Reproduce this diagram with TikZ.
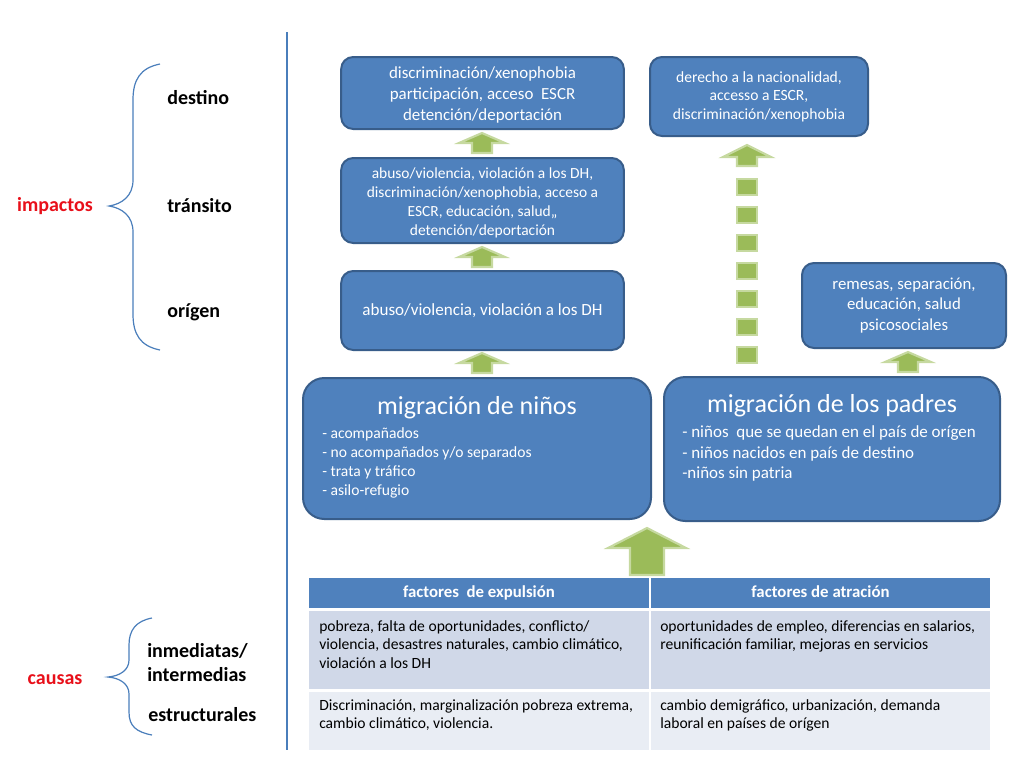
\documentclass[tikz,border=0pt]{standalone}
\usepackage{fontspec}
\setmainfont{Carlito}
\usetikzlibrary{calc}
\definecolor{boxblue}{HTML}{4F81BD}
\definecolor{boxedge}{HTML}{385D8A}
\definecolor{agreen}{HTML}{9BBB59}
\definecolor{agreenl}{HTML}{C6D9A0}
\definecolor{rowa}{HTML}{D0D8E8}
\definecolor{rowb}{HTML}{E9EDF4}
\definecolor{bracec}{HTML}{4A7EBB}
\definecolor{labred}{HTML}{E8101A}
\newcommand{\blockup}[5]{\draw[greenarrow] (#1) -- ++(#2,#3) -- ++(-#2+#4,0) -- ++(0,#5-#3) -- ++(-2*#4,0) -- ++(0,-#5+#3) -- ++(-#2+#4,0) -- cycle;}
\tikzset{
  bluebox/.style={draw=boxedge, line width=1.5pt, fill=boxblue, rounded corners=9pt, text=white, align=center, inner sep=0pt},
  bigbox/.style={bluebox, rounded corners=16pt},
  greenarrow/.style={fill=agreen, draw=agreenl, line width=1.6pt, line join=miter},
  dashsq/.style={fill=agreen, draw=agreenl, line width=1.6pt, minimum width=15pt, minimum height=11.5pt, inner sep=0pt},
  cell/.style={inner sep=0pt, draw=none},
  celltext/.style={align=left, font=\fontsize{11.7}{14}\selectfont, anchor=north west, inner sep=0pt},
  headtext/.style={text=white, font=\bfseries\fontsize{12.6}{15}\selectfont, inner sep=0pt, anchor=base},
  sidelab/.style={font=\bfseries\fontsize{15}{18}\selectfont, anchor=west, inner sep=0pt, align=left},
  redlab/.style={font=\bfseries\fontsize{15}{18}\selectfont, text=labred, inner sep=0pt},
  bracepath/.style={draw=bracec, line width=0.9pt},
  bigtitle/.style={text=white, font=\fontsize{19.5}{22}\selectfont, inner sep=0pt},
}
\begin{document}
\begin{tikzpicture}[x=0.75pt,y=-0.75pt]
\useasboundingbox (0,0) rectangle (1024,768);
% divider
\draw[draw=bracec, line width=1.1pt] (287,32) -- (287,750);
% left labels
\node[redlab] (imp) at (55,206) {impactos};
\node[sidelab] (dest) at (167,98) {destino};
\node[sidelab] (tran) at (167,206) {tránsito};
\node[sidelab] (orig) at (167,312) {orígen};
\draw[bracepath] (160,64) .. controls (140,68) and (133,80) .. (133,100) -- (133,180) .. controls (133,196) and (122,204) .. (109,206) .. controls (122,208) and (133,216) .. (133,232) -- (133,314) .. controls (133,334) and (140,346) .. (160,350);
\node[redlab] (cau) at (55,680) {causas};
\node[sidelab] (inm) at (147,663) {inmediatas/\\intermedias};
\node[sidelab] (est) at (148,715) {estructurales};
\draw[bracepath] (152,618) .. controls (136,621) and (129,630) .. (129,645) -- (129,660) .. controls (129,670) and (120,676) .. (108,677) .. controls (120,678) and (129,684) .. (129,694) -- (129,712) .. controls (129,726) and (136,732) .. (152,735);
% left column boxes
\node[bluebox, minimum width=212pt, minimum height=54pt] (b1) at (482.5,93) {};
\node[text=white, align=center, inner sep=0pt, font=\fontsize{12.7}{15.75}\selectfont] (b1t) at (482.5,95) {discriminación/xenophobia\\participación, acceso~ ESCR\\detención/deportación};
\node[bluebox, minimum width=212pt, minimum height=63.75pt] (b2) at (482.5,200.5) {};
\node[text=white, align=center, inner sep=0pt, font=\fontsize{11.6}{14.25}\selectfont] (b2t) at (482.5,202.5) {abuso/violencia, violación a los DH,\\discriminación/xenophobia, acceso a\\ESCR, educación, salud,,\\detención/deportación};
\node[bluebox, minimum width=212pt, minimum height=59.25pt, font=\fontsize{12.8}{15}\selectfont] (b3) at (482.5,310.5) {abuso/violencia, violación a los DH};
% right column boxes
\node[bluebox, minimum width=163.5pt, minimum height=59.25pt, font=\fontsize{11.7}{13.8}\selectfont] (tr) at (759,96.5) {derecho a la nacionalidad,\\accesso a ESCR,\\discriminación/xenophobia};
\node[bluebox, minimum width=153pt, minimum height=63.75pt, font=\fontsize{12.6}{15.2}\selectfont] (rem) at (904,305.5) {remesas, separación,\\educación, salud\\psicosociales};
% big boxes
\node[bigbox, minimum width=261pt, minimum height=105.75pt] (nin) at (477,448.5) {};
\node[bigtitle] (nint) at (477,408) {migración de niños};
\node[text=white, align=left, anchor=north west, inner sep=0pt, font=\fontsize{11.7}{14.25}\selectfont] (nini) at (322,427) {- acompañados\\- no acompañados y/o separados\\- trata y tráfico\\- asilo-refugio};
\node[bigbox, minimum width=252pt, minimum height=108pt] (pad) at (832,449) {};
\node[bigtitle] (padt) at (832,406) {migración de los padres};
\node[text=white, align=left, anchor=north west, inner sep=0pt, font=\fontsize{12.75}{15.4}\selectfont] (padi) at (682,425.5) {- niños~ que se quedan en el país de orígen\\- niños nacidos en país de destino\\-niños sin patria};
% arrows
\coordinate (a1) at (482,133);
\coordinate (a2) at (482,247);
\coordinate (a3) at (482,353);
\coordinate (a4) at (908,352);
\coordinate (a5) at (647,528);
\coordinate (a6) at (747,145);
\blockup{a1}{23}{10}{10}{20}
\blockup{a2}{23}{10}{10}{20}
\blockup{a3}{23}{10}{10}{20}
\blockup{a4}{23}{10}{10}{20}
\blockup{a5}{39}{20}{17}{47}
\blockup{a6}{24}{12}{10}{21}
\foreach \yy in {187,215,243,271,299,327,355} \node[dashsq] at (747,\yy) {};
% table
\node[cell, fill=boxblue, minimum width=255pt, minimum height=22.5pt] (h1) at (479,592.5) {};
\node[cell, fill=boxblue, minimum width=254.25pt, minimum height=22.5pt] (h2) at (820.5,592.5) {};
\node[headtext] (h1t) at (479,597) {factores~ de expulsión};
\node[headtext] (h2t) at (820.5,597) {factores de atración};
\node[cell, fill=rowa, minimum width=255pt, minimum height=58.5pt] (r11) at (479,650) {};
\node[cell, fill=rowa, minimum width=254.25pt, minimum height=58.5pt] (r12) at (820.5,650) {};
\node[cell, fill=rowb, minimum width=255pt, minimum height=43.5pt] (r21) at (479,721) {};
\node[cell, fill=rowb, minimum width=254.25pt, minimum height=43.5pt] (r22) at (820.5,721) {};
\node[celltext] (t11) at (319,620) {pobreza, falta de oportunidades, conflicto/\\violencia, desastres naturales, cambio climático,\\violación a los DH};
\node[celltext] (t12) at (660,620) {oportunidades de empleo, diferencias en salarios,\\reunificación familiar, mejoras en servicios};
\node[celltext] (t21) at (319,699) {Discriminación, marginalización pobreza extrema,\\cambio climático, violencia.};
\node[celltext] (t22) at (660,699) {cambio demigráfico, urbanización, demanda\\laboral en países de orígen};
\end{tikzpicture}
\end{document}
